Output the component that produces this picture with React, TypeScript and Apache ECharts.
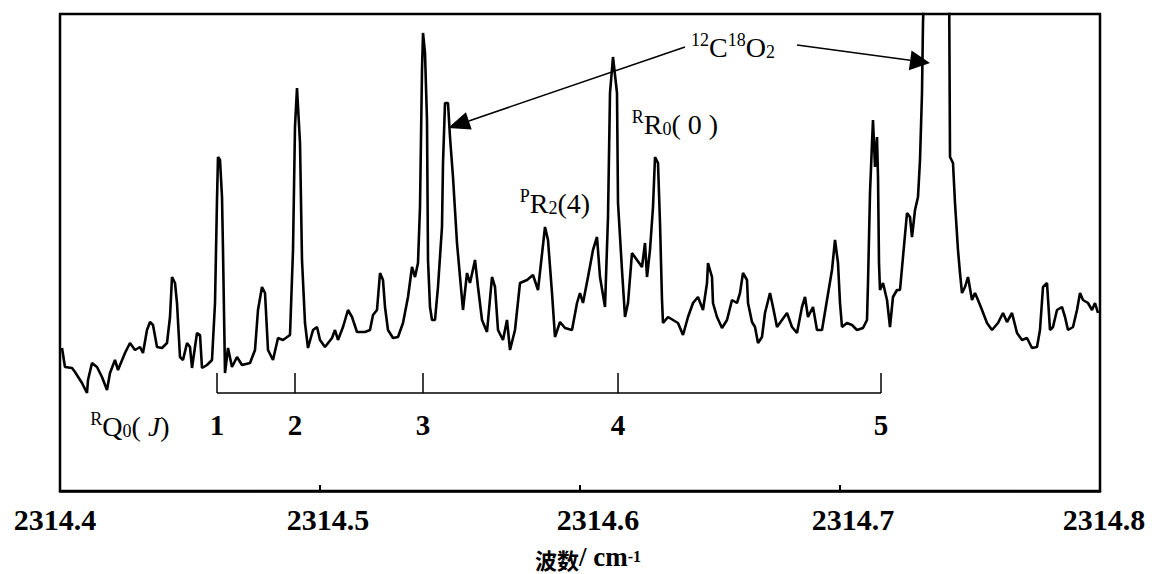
import React, { useEffect, useRef } from "react";
import * as echarts from "echarts";

// Spectrum (wavenumber in cm-1, intensity in arbitrary units)
const wavenumber = [
  2314.40077, 2314.40192, 2314.40462, 2314.40577, 2314.40846, 2314.41038, 2314.41077, 2314.41231, 2314.41423, 2314.41615,
  2314.41808, 2314.41923, 2314.42115, 2314.42231, 2314.425, 2314.42692, 2314.42885, 2314.43077, 2314.43192, 2314.43346,
  2314.43462, 2314.43577, 2314.43731, 2314.43923, 2314.44115, 2314.44231, 2314.44308, 2314.44423, 2314.445, 2314.44615,
  2314.44731, 2314.44885, 2314.45, 2314.45077, 2314.45269, 2314.45385, 2314.45462, 2314.45654, 2314.45846, 2314.45962,
  2314.46038, 2314.46077, 2314.46154, 2314.46231, 2314.46269, 2314.46346, 2314.46462, 2314.46615, 2314.46808, 2314.47,
  2314.47308, 2314.475, 2314.47615, 2314.47769, 2314.47885, 2314.48, 2314.48192, 2314.48385, 2314.48577, 2314.48846,
  2314.48962, 2314.49038, 2314.49115, 2314.49231, 2314.49308, 2314.49423, 2314.49538, 2314.49731, 2314.49885, 2314.5,
  2314.50192, 2314.50462, 2314.50577, 2314.50692, 2314.50885, 2314.51077, 2314.51231, 2314.51423, 2314.51731, 2314.51923,
  2314.52038, 2314.52192, 2314.52308, 2314.52423, 2314.525, 2314.52615, 2314.52808, 2314.53, 2314.53192, 2314.53385,
  2314.53538, 2314.53654, 2314.53769, 2314.53846, 2314.53923, 2314.53962, 2314.54038, 2314.54115, 2314.54154, 2314.54231,
  2314.54308, 2314.54423, 2314.54538, 2314.54692, 2314.54731, 2314.54808, 2314.54923, 2314.55, 2314.55115, 2314.55269,
  2314.55385, 2314.555, 2314.55654, 2314.55769, 2314.55962, 2314.56077, 2314.56231, 2314.56423, 2314.56615, 2314.56731,
  2314.56846, 2314.57038, 2314.57192, 2314.57308, 2314.575, 2314.57692, 2314.57962, 2314.58192, 2314.58385, 2314.58654,
  2314.58769, 2314.58923, 2314.59038, 2314.59231, 2314.59423, 2314.59692, 2314.59885, 2314.6, 2314.60115, 2314.60308,
  2314.605, 2314.60654, 2314.60769, 2314.60962, 2314.61077, 2314.61154, 2314.61269, 2314.61423, 2314.61462, 2314.61615,
  2314.61731, 2314.61846, 2314.62, 2314.62192, 2314.62385, 2314.625, 2314.62577, 2314.62692, 2314.62808, 2314.62885,
  2314.63, 2314.63077, 2314.63154, 2314.63192, 2314.63385, 2314.63577, 2314.63769, 2314.63962, 2314.64154, 2314.64346,
  2314.64538, 2314.64731, 2314.64885, 2314.64923, 2314.65077, 2314.65115, 2314.65269, 2314.65462, 2314.65654, 2314.65846,
  2314.66038, 2314.66154, 2314.66269, 2314.66423, 2314.66462, 2314.66615, 2314.66731, 2314.66846, 2314.67, 2314.67115,
  2314.67308, 2314.67423, 2314.67577, 2314.67769, 2314.67962, 2314.68154, 2314.68346, 2314.68538, 2314.68654, 2314.68769,
  2314.68962, 2314.69115, 2314.69308, 2314.695, 2314.69692, 2314.69808, 2314.69923, 2314.7, 2314.70077, 2314.70269,
  2314.70462, 2314.70654, 2314.70885, 2314.71038, 2314.71077, 2314.71154, 2314.71231, 2314.71269, 2314.71346, 2314.71423,
  2314.71462, 2314.715, 2314.71538, 2314.71654, 2314.71808, 2314.71923, 2314.72038, 2314.72192, 2314.72308, 2314.72423,
  2314.72577, 2314.72692, 2314.72769, 2314.72885, 2314.73, 2314.73077, 2314.73154, 2314.73192, 2314.73269, 2314.74192,
  2314.74231, 2314.74346, 2314.74423, 2314.74538, 2314.74615, 2314.74692, 2314.74808, 2314.74923, 2314.75077, 2314.75192,
  2314.75308, 2314.75462, 2314.75654, 2314.75846, 2314.76077, 2314.76269, 2314.76423, 2314.76615, 2314.76808, 2314.77,
  2314.77192, 2314.77385, 2314.77577, 2314.77692, 2314.77808, 2314.77962, 2314.78077, 2314.78192, 2314.78346, 2314.78538,
  2314.78654, 2314.78769, 2314.78962, 2314.79115, 2314.79231, 2314.79346, 2314.79538, 2314.79692, 2314.79808, 2314.79923,
];

const intensity = [
  143, 124, 123, 119, 108, 98, 111, 128, 124, 114,
  101, 118, 131, 121, 138, 148, 141, 144, 138, 161,
  169, 166, 144, 143, 148, 174, 214, 208, 188, 134,
  131, 148, 144, 123, 158, 156, 123, 126, 131, 188,
  291, 334, 331, 294, 241, 118, 143, 124, 134, 126,
  128, 141, 181, 204, 198, 141, 131, 153, 151, 156,
  241, 364, 403, 348, 231, 168, 143, 161, 164, 151,
  144, 153, 161, 151, 164, 181, 174, 159, 159, 161,
  176, 181, 218, 211, 184, 161, 153, 154, 168, 194,
  224, 214, 228, 284, 421, 458, 438, 371, 231, 184,
  171, 171, 204, 264, 328, 388, 388, 354, 314, 248,
  214, 181, 218, 208, 231, 204, 171, 159, 214, 204,
  161, 151, 171, 141, 161, 208, 211, 216, 201, 264,
  251, 198, 154, 169, 163, 161, 188, 198, 188, 214,
  241, 254, 214, 184, 274, 398, 434, 398, 288, 221,
  174, 188, 238, 231, 224, 248, 214, 241, 284, 334,
  328, 268, 191, 168, 174, 171, 168, 156, 174, 188,
  194, 181, 208, 228, 214, 188, 174, 163, 171, 191,
  188, 198, 218, 211, 188, 169, 164, 148, 154, 178,
  198, 184, 164, 171, 178, 164, 158, 184, 194, 174,
  184, 161, 161, 191, 221, 251, 228, 188, 164, 168,
  166, 161, 163, 171, 208, 298, 348, 371, 324, 354,
  314, 228, 201, 208, 191, 164, 194, 201, 201, 234,
  278, 274, 254, 281, 294, 331, 398, 468, 530, 530,
  334, 328, 288, 241, 218, 198, 204, 214, 191, 198,
  191, 181, 168, 161, 168, 178, 169, 178, 158, 151,
  153, 143, 144, 161, 204, 208, 161, 164, 181, 184,
  174, 161, 164, 181, 198, 191, 188, 181, 188, 178,
];

// RQ0(J) line positions (bracket) and their J labels
const rq0Positions = [2314.4604, 2314.4904, 2314.5396, 2314.6146, 2314.7158];
const rq0Labels = ["1", "2", "3", "4", "5"];

const X_MIN = 2314.4;
const X_MAX = 2314.8;
const X_STEP = 0.1;
const Y_MAX = 477;

const SERIF = '"Liberation Serif", "DejaVu Serif", serif';
const CJK = '"Noto Sans CJK SC", "Noto Sans CJK JP", sans-serif';

const baseRich = {
  m: { fontSize: 28, fontFamily: SERIF, lineHeight: 30, verticalAlign: "bottom", fill: "#000", color: "#000" },
  it: { fontSize: 28, fontFamily: SERIF, fontStyle: "italic", lineHeight: 30, verticalAlign: "bottom", fill: "#000", color: "#000" },
  sup: { fontSize: 18, fontFamily: SERIF, lineHeight: 17, verticalAlign: "top", fill: "#000", color: "#000" },
  sub: { fontSize: 18, fontFamily: SERIF, lineHeight: 19, verticalAlign: "bottom", fill: "#000", color: "#000" },
};

function richText(text: string, x: number, y: number) {
  return {
    type: "text",
    x,
    y,
    z: 100,
    style: {
      text,
      rich: baseRich,
      fontFamily: SERIF,
      fontSize: 28,
      fill: "#000",
      textAlign: "center",
      textVerticalAlign: "middle",
      align: "center",
      verticalAlign: "middle",
    },
  };
}

function arrow(x1: number, y1: number, tx: number, ty: number, len: number, half: number) {
  const dx = tx - x1;
  const dy = ty - y1;
  const L = Math.sqrt(dx * dx + dy * dy);
  const ux = dx / L;
  const uy = dy / L;
  const bx = tx - ux * len;
  const by = ty - uy * len;
  const nx = -uy;
  const ny = ux;
  return [
    {
      type: "line",
      z: 100,
      shape: { x1, y1, x2: bx, y2: by },
      style: { stroke: "#000", lineWidth: 1.6 },
    },
    {
      type: "polygon",
      z: 100,
      shape: {
        points: [
          [tx, ty],
          [bx + nx * half, by + ny * half],
          [bx - nx * half, by - ny * half],
        ],
      },
      style: { fill: "#000" },
    },
  ];
}

const tickRich: Record<string, any> = {};
const tickPads = [
  [0, 10, 0, 0],
  [0, 0, 0, 16],
  [0, 0, 0, 36],
  [0, 0, 0, 26],
  [0, 0, 0, 8],
];
tickPads.forEach((p, i) => {
  tickRich["t" + i] = {
    fontSize: 30,
    fontWeight: "bold",
    fontFamily: SERIF,
    color: "#000",
    padding: p,
  };
});

export default function App() {
  const ref = useRef<HTMLDivElement>(null);

  useEffect(() => {
    if (!ref.current) return;
    const chart = echarts.init(ref.current, undefined, { renderer: "svg" });

    const spectrum = wavenumber.map((w, i) => [w, intensity[i]]);
    const bracketLines = [
      { coords: [[rq0Positions[0], 98], [rq0Positions[rq0Positions.length - 1], 98]] },
      ...rq0Positions.map((p) => ({ coords: [[p, 98], [p, 118]] })),
    ];
    const bracketLabels = rq0Positions.map((p, i) => ({ name: rq0Labels[i], value: [p, 66] }));

    chart.setOption({
      animation: false,
      backgroundColor: "#fff",
      textStyle: { fontFamily: SERIF },
      grid: {
        left: 60,
        right: 57,
        top: 14,
        bottom: 83,
        show: true,
        borderColor: "#000",
        borderWidth: 2.5,
        backgroundColor: "transparent",
      },
      xAxis: {
        type: "value",
        min: X_MIN,
        max: X_MAX,
        interval: X_STEP,
        axisLine: { show: true, onZero: false, lineStyle: { color: "#000", width: 2.5 } },
        axisTick: { show: true, inside: true, length: 6, lineStyle: { color: "#000", width: 2 } },
        splitLine: { show: false },
        axisLabel: {
          show: true,
          margin: 13,
          showMinLabel: true,
          showMaxLabel: true,
          fontFamily: SERIF,
          fontSize: 30,
          fontWeight: "bold",
          color: "#000",
          formatter: (v: number) => {
            const idx = Math.round((v - X_MIN) / X_STEP);
            return `{t${idx}|${v.toFixed(1)}}`;
          },
          rich: tickRich,
        },
      },
      yAxis: {
        type: "value",
        min: 0,
        max: Y_MAX,
        show: false,
        splitLine: { show: false },
      },
      series: [
        {
          type: "line",
          data: spectrum,
          showSymbol: false,
          symbol: "none",
          clip: true,
          lineStyle: { color: "#000", width: 2.6 },
          z: 3,
        },
        {
          type: "lines",
          coordinateSystem: "cartesian2d",
          data: bracketLines,
          lineStyle: { color: "#000", width: 1.5, opacity: 1 },
          z: 4,
        },
        {
          type: "scatter",
          data: bracketLabels,
          symbol: "circle",
          symbolSize: 1,
          itemStyle: { color: "#fff", opacity: 0 },
          label: {
            show: true,
            position: "inside",
            formatter: "{b}",
            fontSize: 29,
            fontWeight: "bold",
            fontFamily: SERIF,
            color: "#000",
            opacity: 1,
            textBorderWidth: 0,
          },
          z: 5,
        },
      ],
      graphic: [
        richText("{sup|12}{m|C}{sup|18}{m|O}{sub|2}", 733, 46),
        richText("{sup|R}{m|R}{sub|0}{m|( 0 )}", 675, 123),
        richText("{sup|P}{m|R}{sub|2}{m|(4)}", 555, 202),
        richText("{sup|R}{m|Q}{sub|0}{m|( }{it|J}{m|)}", 130, 425),
        {
          type: "text",
          x: 588,
          y: 559,
          z: 100,
          style: {
            text: "{cj|波数}{a|/ cm}{s|-1}",
            textAlign: "center",
            textVerticalAlign: "middle",
            align: "center",
            verticalAlign: "middle",
            fill: "#000",
            rich: {
              cj: { fontSize: 22, fontFamily: CJK, fontWeight: "bold", lineHeight: 22, verticalAlign: "bottom", fill: "#000", color: "#000" },
              a: { fontSize: 27, fontFamily: SERIF, fontWeight: "bold", lineHeight: 22, verticalAlign: "bottom", fill: "#000", color: "#000" },
              s: { fontSize: 16, fontFamily: SERIF, fontWeight: "bold", lineHeight: 14, verticalAlign: "top", fill: "#000", color: "#000" },
            },
          },
        },
        ...arrow(685, 47, 448, 128, 22, 9),
        ...arrow(797, 45, 930, 63, 20, 10),
      ],
    });

    return () => chart.dispose();
  }, []);

  return (
    <div
      ref={ref}
      style={{ position: "fixed", left: 0, top: 0, width: 1157, height: 574, background: "#fff" }}
    />
  );
}
